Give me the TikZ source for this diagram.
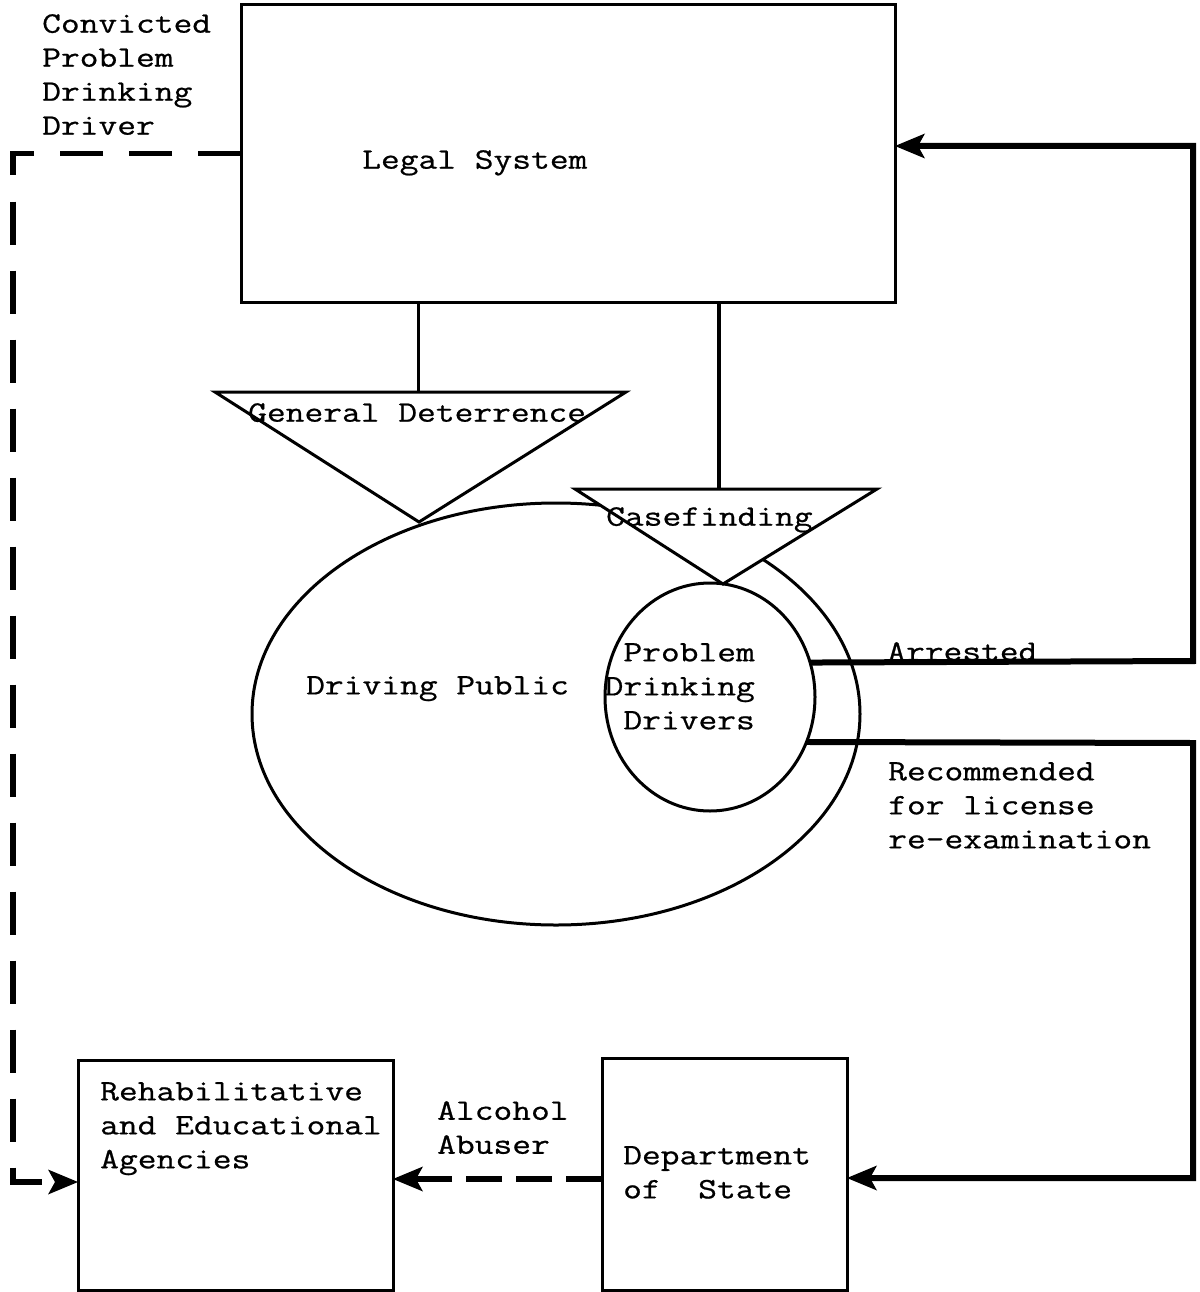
\documentclass[tikz,border=0pt]{standalone}
\usepackage{fontspec}
\newfontfamily\tw[FakeBold=0.7,FakeStretch=1.227]{Latin Modern Mono}
\usetikzlibrary{arrows.meta,shapes.geometric}
\begin{document}
\begin{tikzpicture}[x=1pt,y=-1pt,
  thinline/.style={line width=3pt},
  heavy/.style={line width=6pt},
  dashedline/.style={line width=5.5pt, dash pattern=on 43pt off 26pt},
  dashedshort/.style={line width=5.5pt, dash pattern=on 36pt off 14pt},
  tip/.style={-{Stealth[length=30pt,width=25pt,inset=7pt,line width=0pt]}},
  txt/.style={font=\tw\fontsize{29.7}{34}\selectfont, inner sep=0pt, anchor=north west, align=left},
  box/.style={draw, line width=3pt, rectangle, inner sep=0pt, outer sep=0pt},
  oval/.style={draw, line width=3pt, ellipse, inner sep=0pt, outer sep=0pt}]
\useasboundingbox (0,0) rectangle (1199,1292);

% boxes
\node[box, minimum width=654pt, minimum height=297pt] (legal) at (568,153.5) {};
\node[box, minimum width=315pt, minimum height=230pt] (rehab) at (235.5,1175) {};
\node[box, minimum width=245pt, minimum height=232pt] (dept) at (724.5,1174) {};

% driving public ellipse
\node[oval, minimum width=608pt, minimum height=422pt] (public) at (556,714) {};

% triangles
\coordinate (gdL) at (215,392);
\coordinate (gdR) at (626,392);
\coordinate (gdA) at (419,522);
\coordinate (gdtop) at (418,392);
\draw[thinline, fill=white, line join=miter] (gdL) -- (gdR) -- (gdA) -- cycle;
\coordinate (cfL) at (575,489);
\coordinate (cfR) at (877,489);
\coordinate (cfA) at (723,584);
\coordinate (cftop) at (719,489);
\draw[thinline, fill=white, line join=miter] (cfL) -- (cfR) -- (cfA) -- cycle;

% problem drinking drivers circle
\node[oval, minimum width=210pt, minimum height=228pt] (pdd) at (710,697) {};

% connectors from legal system
\draw[thinline] (legal.south -| gdtop) -- (gdtop);
\draw[line width=4.5pt] (legal.south -| cftop) -- (cftop);

% arrested
\coordinate (arrA) at (1193,661);
\coordinate (arrB) at (1193,146);
\draw[heavy, tip] (pdd.19.9) -- (arrA) -- (arrB) -- (legal.east |- arrB);

% recommended
\coordinate (recA) at (1193,743);
\coordinate (recB) at (1193,1178);
\draw[heavy, tip] (pdd.-25.6) -- (recA) -- (recB) -- (dept.east |- recB);

% convicted dashed
\coordinate (cvA) at (13,153.5);
\coordinate (cvB) at (13,1182);
\draw[dashedline, tip] (legal.west) -- (cvA) -- (cvB) -- (rehab.west |- cvB);

% alcohol abuser dashed
\coordinate (aby) at (0,1179);
\draw[dashedshort, tip] (dept.west |- aby) -- (rehab.east |- aby);

% texts
\node[txt] (tconv) at (42,14) {Convicted\\Problem\\Drinking\\Driver};
\node[txt] (tlegal) at (362,150) {Legal System};
\node[txt] (tgd) at (248,403) {General Deterrence};
\node[txt] (tcf) at (606,507) {Casefinding};
\node[txt] (tdp) at (306,676) {Driving Public};
\node[txt, anchor=north east, align=right] (tpdd) at (755,643) {Problem\\Drinking\\Drivers};
\node[txt] (tarr) at (887,642) {Arrested};
\node[txt] (trec) at (888,762) {Recommended\\for license\\re-examination};
\node[txt] (treh) at (100,1082) {Rehabilitative\\and Educational\\Agencies};
\node[txt] (talc) at (437,1101) {Alcohol\\Abuser};
\node[txt] (tdept) at (623,1146) {Department\\of~~State};
\end{tikzpicture}
\end{document}
